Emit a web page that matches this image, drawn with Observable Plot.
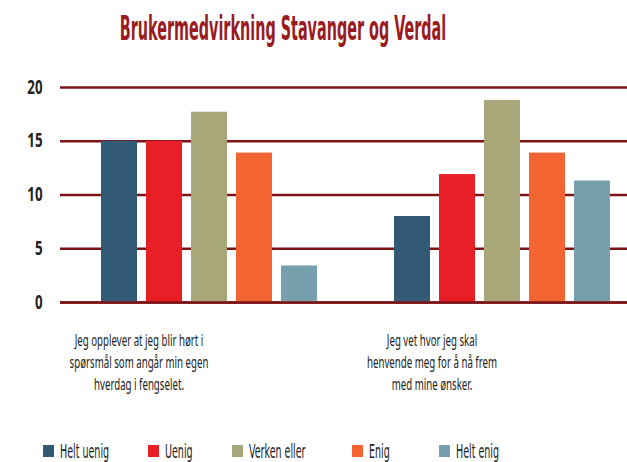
<!DOCTYPE html>
<html>
<head>
<meta charset="utf-8">
<script src="https://cdn.jsdelivr.net/npm/d3@7"></script>
<script src="https://cdn.jsdelivr.net/npm/@observablehq/plot@0.6"></script>
<style>
  html, body { margin: 0; padding: 0; background: #fff; }
  body { width: 627px; height: 462px; overflow: hidden; position: relative; font-family: "DejaVu Sans Condensed", sans-serif; }
  #title { position: absolute; top: 8px; left: 283px; font: bold 34px "DejaVu Sans Condensed", sans-serif; color: #9a1b1f; transform: translateX(-50%) scaleX(0.47); white-space: nowrap; }
  #chart { position: absolute; top: 60px; left: 0; }
  #legend { position: absolute; top: 439px; left: 43px; display: flex; }
  .item { display: flex; align-items: center; white-space: nowrap; }
  .item:nth-child(1) { width: 105px; }
  .item:nth-child(2) { width: 84px; }
  .item:nth-child(3) { width: 120px; }
  .item:nth-child(4) { width: 87px; }
  .item:nth-child(5) { width: 80px; }
  .sw { width: 11px; height: 12px; margin-right: 6px; flex: none; }
  .lab { font: 20px "DejaVu Sans Condensed", sans-serif; color: #222; display: inline-block; transform: scaleX(0.53); transform-origin: left center; }
</style>
</head>
<body>
<div id="title">Brukermedvirkning Stavanger og Verdal</div>
<div id="chart"></div>
<div id="legend"></div>
<script>
const questions = [
  "Jeg opplever at jeg blir hørt i spørsmål som angår min egen hverdag i fengselet.",
  "Jeg vet hvor jeg skal henvende meg for å nå frem med mine ønsker."
];
const questionLabels = [
  "Jeg opplever at jeg blir hørt i\nspørsmål som angår min egen\nhverdag i fengselet.",
  "Jeg vet hvor jeg skal\nhenvende meg for å nå frem\nmed mine ønsker."
];
const series = ["Helt uenig", "Uenig", "Verken eller", "Enig", "Helt enig"];
const colors = ["#325a75", "#e91f27", "#a7a779", "#f26532", "#789fae"];
const q1Values = [15, 15, 17.7, 13.9, 3.4];
const q2Values = [8, 11.9, 18.8, 13.9, 11.3];
const yTicks = [0, 5, 10, 15, 20];

const data = [];
series.forEach((s, i) => {
  data.push({question: questions[0], series: s, value: q1Values[i]});
  data.push({question: questions[1], series: s, value: q2Values[i]});
});

const gridColor = "#7b1416";
const chart = Plot.plot({
  width: 627,
  height: 340,
  marginTop: 27,
  marginBottom: 98,
  marginLeft: 60,
  marginRight: 0,
  style: {background: "transparent", overflow: "visible"},
  fx: {domain: questions, range: [60, 646], paddingInner: 0, paddingOuter: 0, label: null},
  x: {domain: series, paddingInner: 0.19, paddingOuter: 0.797, align: 0.53, axis: null},
  y: {domain: [0, 20], label: null},
  color: {domain: series, range: colors},
  marks: [
    Plot.ruleY(yTicks, {stroke: gridColor, strokeWidth: 2.5}),
    Plot.barY(data, {fx: "question", x: "series", y: "value", fill: "series"}),
    Plot.ruleY([0], {stroke: gridColor, strokeWidth: 2.5}),
    Plot.axisY({ticks: yTicks, tickSize: 0, tickPadding: 18, fontSize: 19, fontWeight: "bold", fill: "#222", label: null}),
    Plot.axisFx({anchor: "bottom", tickSize: 0, tickPadding: 28, fontSize: 17, fill: "#222", lineHeight: 1.3, dx: -68, label: null,
      tickFormat: d => questionLabels[questions.indexOf(d)]})
  ]
});
document.getElementById("chart").appendChild(chart);

// condense tick label glyphs horizontally around their anchor
d3.select(chart).selectAll("[aria-label='y-axis tick label'] text")
  .attr("transform", function() { return (this.getAttribute("transform") || "") + " scale(0.7,1)"; });
d3.select(chart).selectAll("[aria-label='fx-axis tick label'] text")
  .attr("transform", function() { return (this.getAttribute("transform") || "") + " scale(0.57,1)"; });

const legend = d3.select("#legend");
series.forEach((s, i) => {
  const item = legend.append("div").attr("class", "item");
  item.append("div").attr("class", "sw").style("background", colors[i]);
  item.append("span").attr("class", "lab").text(s);
});
</script>
</body>
</html>
